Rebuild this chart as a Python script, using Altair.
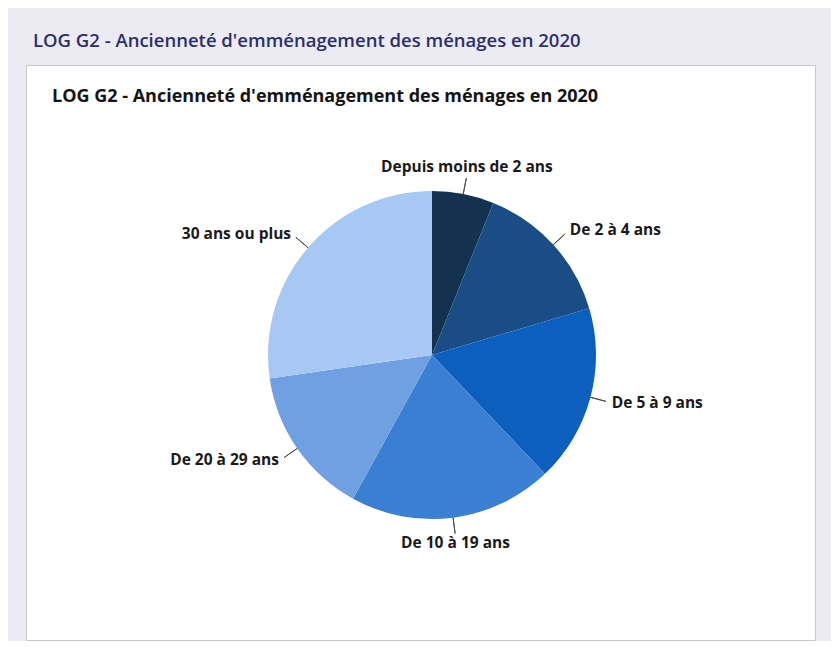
import altair as alt
import pandas as pd

categories = ["Depuis moins de 2 ans", "De 2 à 4 ans", "De 5 à 9 ans",
              "De 10 à 19 ans", "De 20 à 29 ans", "30 ans ou plus"]
values = [6.1, 14.3, 17.5, 20.1, 14.7, 27.3]
colors = ["#14324f", "#1a4d85", "#0c5fbd", "#3a7fd4", "#6ea0e2", "#a7c8f2"]
title = "LOG G2 - Ancienneté d'emménagement des ménages en 2020"

FONT = "Open Sans"
CX, CY = 406, 290
R = 164

df = pd.DataFrame({"cat": categories, "value": values,
                   "order": list(range(len(values)))})
total = float(sum(values))
theta_scale = alt.Scale(domain=[0, total])

base = (
    alt.Chart(df)
    .transform_window(cum="sum(value)", sort=[alt.SortField("order")], frame=[None, 0])
    .transform_calculate(mid="datum.cum - datum.value / 2",
                         frac="(datum.cum - datum.value / 2) / " + str(total))
)

pie = base.mark_arc(radius=R).encode(
    theta=alt.Theta("value:Q", stack=True, scale=theta_scale),
    order=alt.Order("order:Q"),
    color=alt.Color("cat:N", scale=alt.Scale(domain=categories, range=colors), legend=None),
    x=alt.value(CX), y=alt.value(CY),
)

connectors = base.mark_arc(radius=R + 16, radius2=R, stroke="#4d4d4d",
                           strokeWidth=1, fillOpacity=0).encode(
    theta=alt.Theta("mid:Q", stack=None, scale=theta_scale),
    theta2="mid:Q",
    x=alt.value(CX), y=alt.value(CY),
)

label_style = dict(font=FONT, fontWeight="bold", fontSize=15.5, color="#1a1a1a")


def labels(cond, **kw):
    return base.transform_filter(cond).mark_text(**label_style, **kw).encode(
        theta=alt.Theta("mid:Q", stack=None, scale=theta_scale),
        text="cat:N",
        x=alt.value(CX), y=alt.value(CY),
    )


top = labels("datum.frac < 0.06 || datum.frac > 0.94", radius=R + 19,
             align="center", baseline="bottom")
right = labels("datum.frac >= 0.06 && datum.frac < 0.44", radius=R + 21,
               align="left", baseline="middle", dx=1)
bottom = labels("datum.frac >= 0.44 && datum.frac <= 0.56", radius=R + 19,
                align="center", baseline="top")
left = labels("datum.frac > 0.56 && datum.frac <= 0.94", radius=R + 21,
              align="right", baseline="middle", dx=-1)

inner_title = alt.Chart(pd.DataFrame({"t": [title]})).mark_text(
    align="left", baseline="middle", font=FONT, fontSize=18,
    fontWeight="bold", color="#141414"
).encode(x=alt.value(26), y=alt.value(32), text="t:N")

chart = (
    alt.layer(pie, connectors, top, right, bottom, left, inner_title)
    .properties(
        width=789, height=575,
        autosize=alt.AutoSizeParams(type="none"),
        padding={"left": 18, "top": 57, "right": 16, "bottom": 1},
        background="#ecebf3",
        title=alt.TitleParams(title, anchor="start", fontSize=18.5, fontWeight=600,
                              color="#2b2f6e", font=FONT, offset=15, dx=7),
    )
    .configure_view(fill="white", stroke="#c6c6cc", strokeWidth=1)
)

chart.save("out.html", embed_options={"renderer": "svg", "actions": False})
